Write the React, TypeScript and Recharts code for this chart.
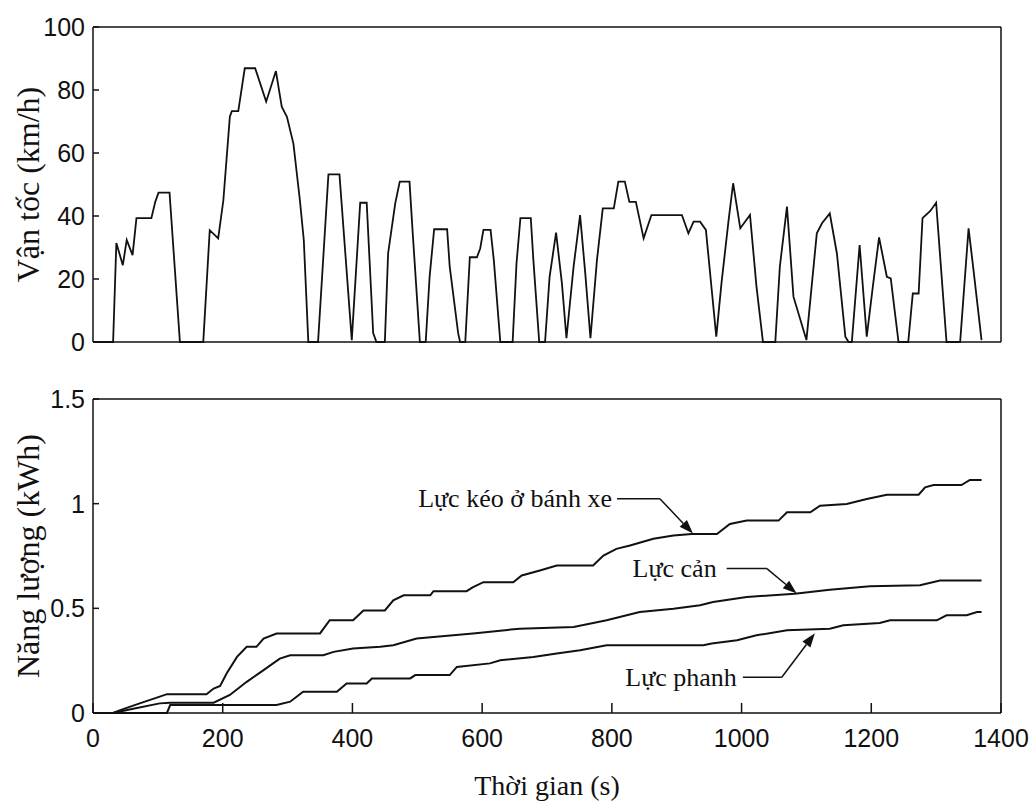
import React from 'react';
import { LineChart, Line, XAxis, YAxis, ReferenceLine } from 'recharts';

// Top panel: vehicle speed over the drive cycle (km/h)
const speedTime = [
  0, 31, 36, 46, 52, 61, 67, 90, 96, 101, 118, 134, 170, 180, 193, 201, 211, 214, 224, 234,
  250, 267, 282, 291, 299, 309, 319, 325, 332, 347, 363, 380, 399, 412, 422, 432, 437, 450,
  455, 466, 473, 488, 493, 504, 513, 519, 526, 546, 550, 563, 566, 574, 581, 592, 597, 602,
  613, 618, 628, 647, 653, 659, 675, 679, 688, 697, 704, 714, 723, 730, 741, 751, 759, 767,
  777, 786, 803, 810, 820, 827, 837, 849, 861, 908, 918, 926, 936, 945, 954, 961, 969, 980,
  987, 998, 1013, 1023, 1033, 1052, 1059, 1070, 1080, 1100, 1116, 1124, 1136, 1147, 1160,
  1165, 1170, 1182, 1193, 1203, 1212, 1224, 1230, 1242, 1257, 1264, 1273, 1279, 1291, 1300,
  1316, 1337, 1350, 1357, 1370,
];
const speedValue = [
  0, 0, 31.4, 24.4, 32.4, 27.6, 39.3, 39.3, 44.5, 47.4, 47.4, 0, 0, 35.5, 32.9, 45, 71.5, 73.3, 73.3, 86.9,
  86.9, 76.3, 86, 74.7, 71.5, 63, 45, 32.4, 0, 0, 53.2, 53.2, 0.6, 44.2, 44.2, 2.8, 0, 0,
  28.1, 44, 50.9, 50.9, 34.5, 0, 0, 20.7, 35.8, 35.8, 23.9, 2.8, 0, 0, 26.9, 26.9, 29.7, 35.6,
  35.6, 26, 0, 0, 25, 39.3, 39.3, 26, 0, 0, 20.7, 34.7, 18.6, 1.2, 23.9, 40.3, 21.8, 1.2,
  26, 42.4, 42.4, 50.9, 50.9, 44.5, 44.5, 32.9, 40.3, 40.3, 34.5, 38.2, 38.2, 35.6, 16.5, 1.7, 18.6, 38.7,
  50.4, 36.1, 40.3, 17.6, 0, 0, 23.9, 43, 14.4, 0.6, 34.5, 37.7, 40.8, 28.1, 1.7,
  0, 0, 30.8, 1.7, 18.6, 33.2, 20.7, 20.2, 0, 0, 15.4, 15.4, 39.3, 41.6, 44.2,
  0, 0, 36.1, 23.9, 0.6,
];

// Bottom panel: cumulative energy (kWh)
const tractionTime = [
  0, 31, 42, 72, 103, 114, 175, 186, 196, 206, 222, 237, 252, 263, 283, 350, 365, 401, 417, 450,
  463, 479, 520, 525, 576, 586, 602, 648, 661, 689, 715, 771, 787, 807, 828, 864, 895, 923, 962, 982,
  1008, 1057, 1070, 1106, 1121, 1162, 1193, 1224, 1273, 1283, 1296, 1339, 1352, 1370,
];
const tractionEnergy = [
  0, 0, 0.014, 0.046, 0.078, 0.09, 0.09, 0.117, 0.129, 0.189, 0.268, 0.316, 0.316, 0.356, 0.38, 0.38, 0.443, 0.443, 0.49, 0.49,
  0.538, 0.562, 0.562, 0.582, 0.582, 0.601, 0.625, 0.625, 0.657, 0.681, 0.705, 0.705, 0.752, 0.784, 0.8, 0.832, 0.848, 0.855, 0.855, 0.903,
  0.919, 0.919, 0.959, 0.959, 0.99, 0.998, 1.022, 1.043, 1.043, 1.078, 1.089, 1.089, 1.113, 1.113,
];

const resistanceTime = [
  0, 31, 62, 103, 119, 186, 211, 237, 263, 288, 304, 355, 371, 401, 443, 463, 499, 586, 658, 741,
  792, 843, 895, 936, 956, 1008, 1082, 1136, 1198, 1275, 1306, 1370,
];
const resistanceEnergy = [
  0, 0, 0.02, 0.046, 0.049, 0.049, 0.086, 0.149, 0.205, 0.26, 0.276, 0.276, 0.292, 0.308, 0.316, 0.324, 0.356, 0.38, 0.403, 0.411,
  0.443, 0.482, 0.498, 0.515, 0.53, 0.554, 0.57, 0.589, 0.605, 0.61, 0.633, 0.633,
];

const brakeTime = [
  0, 114, 119, 283, 304, 324, 376, 391, 422, 430, 489, 497, 550, 561, 612, 628, 679, 715, 751, 792,
  941, 954, 993, 1023, 1070, 1136, 1157, 1213, 1229, 1301, 1316, 1347, 1363, 1370,
];
const brakeEnergy = [
  0, 0, 0.038, 0.038, 0.054, 0.102, 0.102, 0.141, 0.141, 0.165, 0.165, 0.181, 0.181, 0.22, 0.237, 0.252, 0.268, 0.284, 0.3, 0.324,
  0.324, 0.332, 0.348, 0.371, 0.395, 0.403, 0.419, 0.43, 0.443, 0.443, 0.467, 0.467, 0.482, 0.482,
];

const timeTicks = [0, 200, 400, 600, 800, 1000, 1200, 1400];
const speedTicks = [0, 20, 40, 60, 80, 100];
const energyTicks = [0, 0.5, 1, 1.5];

// callouts: label, leader line (x from/to at y), arrow tip
const calloutLabels = ['Lực kéo ở bánh xe', 'Lực cản', 'Lực phanh'];
const calloutLeaderX = [[808, 874], [977, 1039], [1002, 1062]];
const calloutLeaderY = [1.024, 0.69, 0.171];
const calloutTipX = [925, 1085, 1113];
const calloutTipY = [0.857, 0.571, 0.381];
const calloutGap = [5, 10, 6];

const speedData = speedTime.map((t, i) => ({ t, v: speedValue[i] }));
const tractionData = tractionTime.map((t, i) => ({ t, e: tractionEnergy[i] }));
const resistanceData = resistanceTime.map((t, i) => ({ t, e: resistanceEnergy[i] }));
const brakeData = brakeTime.map((t, i) => ({ t, e: brakeEnergy[i] }));

const INK = '#111';
const SANS = '"Liberation Sans", Arial, sans-serif';
const SERIF = '"Liberation Serif", "Times New Roman", serif';
const tickFont = { fontFamily: SANS, fontSize: 25, fill: INK };
const axisStroke = { stroke: INK, strokeWidth: 1.5 };

function yTitle(text: string) {
  return (props: any) => {
    const { x, y, height } = props.viewBox;
    const cx = x + 28;
    const cy = y + height / 2;
    return (
      <text
        x={cx}
        y={cy}
        transform={`rotate(-90, ${cx}, ${cy})`}
        textAnchor="middle"
        dominantBaseline="central"
        fontFamily={SERIF}
        fontSize={32}
        fill={INK}
      >
        {text}
      </text>
    );
  };
}

function xTitle(props: any) {
  const { x, y, width } = props.viewBox;
  return (
    <text
      x={x + width / 2}
      y={y + 72}
      textAnchor="middle"
      dominantBaseline="central"
      fontFamily={SERIF}
      fontSize={28}
      fill={INK}
    >
      Thời gian (s)
    </text>
  );
}

function leaderShape(text: string, gap: number) {
  return (p: any) => (
    <g>
      <line x1={p.x1} y1={p.y1} x2={p.x2} y2={p.y2} stroke={INK} strokeWidth={1.5} />
      <text
        x={p.x1 - gap}
        y={p.y1}
        textAnchor="end"
        dominantBaseline="central"
        fontFamily={SERIF}
        fontSize={26}
        fill={INK}
      >
        {text}
      </text>
    </g>
  );
}

function arrowShape(p: any) {
  const dx = p.x2 - p.x1;
  const dy = p.y2 - p.y1;
  const len = Math.hypot(dx, dy) || 1;
  const ux = dx / len;
  const uy = dy / len;
  const bx = p.x2 - ux * 14;
  const by = p.y2 - uy * 14;
  const pts = `${p.x2},${p.y2} ${bx - uy * 5},${by + ux * 5} ${bx + uy * 5},${by - ux * 5}`;
  return (
    <g>
      <line x1={p.x1} y1={p.y1} x2={bx} y2={by} stroke={INK} strokeWidth={1.5} />
      <polygon points={pts} fill={INK} />
    </g>
  );
}

export default function App() {
  return (
    <div style={{ position: 'absolute', left: 0, top: 0, width: 1031, height: 801, background: '#fff' }}>
      {/* Speed profile */}
      <div style={{ position: 'absolute', left: 0, top: 0 }}>
        <LineChart width={1031} height={365} data={speedData} margin={{ top: 26, right: 29, bottom: 22, left: 0 }}>
          <XAxis
            xAxisId="top"
            orientation="top"
            type="number"
            dataKey="t"
            domain={[0, 1400]}
            ticks={timeTicks}
            interval={0}
            height={1}
            tick={false}
            tickSize={-7}
            axisLine={axisStroke}
            tickLine={axisStroke}
          />
          <XAxis
            type="number"
            dataKey="t"
            domain={[0, 1400]}
            ticks={timeTicks}
            interval={0}
            height={1}
            tick={false}
            tickSize={-10}
            axisLine={axisStroke}
            tickLine={axisStroke}
          />
          <YAxis
            type="number"
            domain={[0, 100]}
            ticks={speedTicks}
            interval={0}
            width={93}
            tickSize={-6}
            tickMargin={14}
            tick={tickFont}
            axisLine={axisStroke}
            tickLine={axisStroke}
            label={yTitle('Vận tốc (km/h)')}
          />
          <YAxis
            yAxisId="right"
            orientation="right"
            type="number"
            domain={[0, 100]}
            width={1}
            tick={false}
            tickLine={false}
            axisLine={axisStroke}
          />
          <Line
            type="linear"
            dataKey="v"
            stroke={INK}
            strokeWidth={1.8}
            dot={false}
            isAnimationActive={false}
          />
        </LineChart>
      </div>

      {/* Cumulative energy */}
      <div style={{ position: 'absolute', left: 0, top: 365 }}>
        <LineChart width={1031} height={436} margin={{ top: 33, right: 29, bottom: 8, left: 0 }}>
          <XAxis
            xAxisId="top"
            orientation="top"
            type="number"
            dataKey="t"
            domain={[0, 1400]}
            ticks={timeTicks}
            interval={0}
            height={1}
            tick={false}
            tickLine={false}
            axisLine={axisStroke}
          />
          <XAxis
            type="number"
            dataKey="t"
            domain={[0, 1400]}
            ticks={timeTicks}
            interval={0}
            height={80}
            tickSize={-10}
            tickMargin={26}
            tick={tickFont}
            axisLine={axisStroke}
            tickLine={axisStroke}
            label={xTitle}
          />
          <YAxis
            type="number"
            domain={[0, 1.5]}
            ticks={energyTicks}
            interval={0}
            width={93}
            tickSize={-6}
            tickMargin={14}
            tick={tickFont}
            tickFormatter={(v: number) => String(v)}
            axisLine={axisStroke}
            tickLine={axisStroke}
            label={yTitle('Năng lượng (kWh)')}
          />
          <YAxis
            yAxisId="right"
            orientation="right"
            type="number"
            domain={[0, 1.5]}
            width={1}
            tick={false}
            tickLine={false}
            axisLine={axisStroke}
          />
          <Line data={tractionData} type="linear" dataKey="e" stroke={INK} strokeWidth={2} dot={false} isAnimationActive={false} />
          <Line data={resistanceData} type="linear" dataKey="e" stroke={INK} strokeWidth={2} dot={false} isAnimationActive={false} />
          <Line data={brakeData} type="linear" dataKey="e" stroke={INK} strokeWidth={2} dot={false} isAnimationActive={false} />

          {calloutLabels.map((label, i) => (
            <ReferenceLine
              key={`lead-${i}`}
              segment={[
                { x: calloutLeaderX[i][0], y: calloutLeaderY[i] },
                { x: calloutLeaderX[i][1], y: calloutLeaderY[i] },
              ]}
              shape={leaderShape(label, calloutGap[i])}
            />
          ))}
          {calloutLabels.map((label, i) => (
            <ReferenceLine
              key={`arrow-${i}`}
              segment={[
                { x: calloutLeaderX[i][1], y: calloutLeaderY[i] },
                { x: calloutTipX[i], y: calloutTipY[i] },
              ]}
              shape={arrowShape}
            />
          ))}
        </LineChart>
      </div>
    </div>
  );
}
